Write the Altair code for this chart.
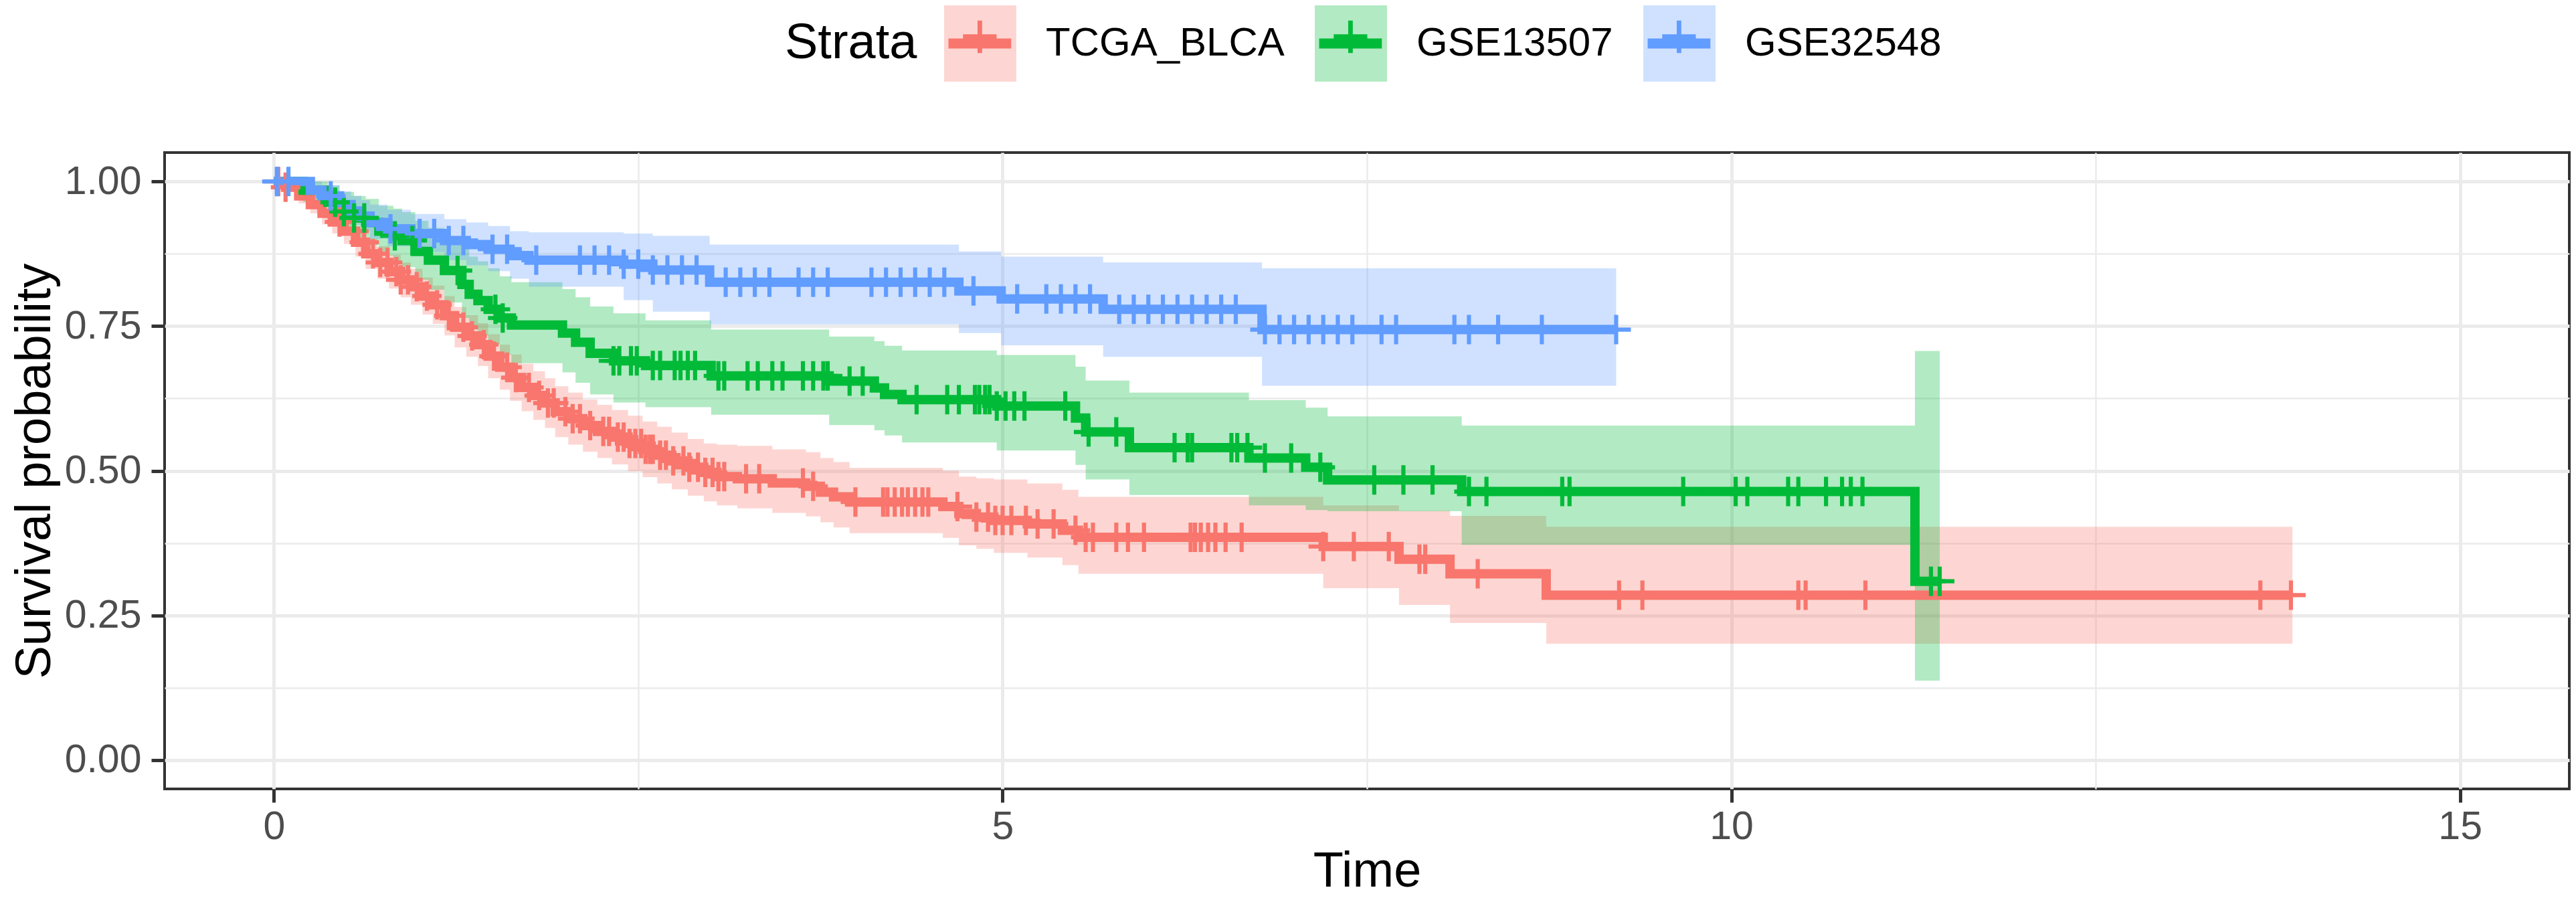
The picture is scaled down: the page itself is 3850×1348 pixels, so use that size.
import altair as alt
import pandas as pd

# ---------------- data ----------------
names = ["TCGA_BLCA", "GSE13507", "GSE32548"]
colors = ["#F8766D", "#00BA38", "#619CFF"]

# TCGA_BLCA : step times, survival, lower / upper confidence limits
red_t = [0.00, 0.08, 0.17, 0.25, 0.33, 0.40, 0.48, 0.56, 0.63, 0.71, 0.79, 0.87, 0.94, 1.02, 1.09,
         1.17, 1.24, 1.32, 1.40, 1.47, 1.55, 1.62, 1.70, 1.78, 1.86, 1.93, 2.02, 2.12, 2.22, 2.32,
         2.43, 2.53, 2.63, 2.73, 2.84, 2.95, 3.04, 3.18, 3.42, 3.65, 3.75, 3.84, 3.95, 4.59, 4.70,
         4.82, 4.94, 5.17, 5.41, 5.52, 7.20, 7.72, 8.07, 8.73, 13.85]
red_s = [1.000, 0.990, 0.975, 0.960, 0.945, 0.930, 0.914, 0.895, 0.875, 0.860, 0.844, 0.830, 0.818, 0.802, 0.787,
         0.768, 0.748, 0.733, 0.718, 0.698, 0.679, 0.661, 0.644, 0.630, 0.617, 0.602, 0.590, 0.578, 0.568, 0.558,
         0.547, 0.537, 0.527, 0.517, 0.506, 0.497, 0.490, 0.486, 0.479, 0.473, 0.463, 0.455, 0.446, 0.438, 0.426,
         0.420, 0.414, 0.408, 0.397, 0.385, 0.369, 0.347, 0.322, 0.285, 0.285]
red_lo = [1.000, 0.982, 0.962, 0.945, 0.926, 0.910, 0.892, 0.870, 0.849, 0.832, 0.815, 0.800, 0.787, 0.770, 0.754,
          0.734, 0.713, 0.697, 0.681, 0.660, 0.640, 0.621, 0.603, 0.588, 0.574, 0.558, 0.545, 0.533, 0.522, 0.511,
          0.499, 0.489, 0.478, 0.468, 0.457, 0.447, 0.440, 0.435, 0.427, 0.421, 0.411, 0.402, 0.392, 0.384, 0.371,
          0.365, 0.358, 0.350, 0.337, 0.322, 0.297, 0.268, 0.237, 0.201, 0.201]
red_hi = [1.000, 0.998, 0.988, 0.975, 0.962, 0.950, 0.936, 0.920, 0.901, 0.888, 0.873, 0.860, 0.849, 0.834, 0.820,
          0.802, 0.783, 0.769, 0.755, 0.736, 0.718, 0.701, 0.685, 0.672, 0.660, 0.646, 0.635, 0.623, 0.614, 0.605,
          0.595, 0.585, 0.576, 0.566, 0.555, 0.547, 0.545, 0.543, 0.537, 0.532, 0.522, 0.515, 0.505, 0.500, 0.490,
          0.487, 0.485, 0.478, 0.467, 0.455, 0.440, 0.431, 0.422, 0.403, 0.403]
red_cens = [0.03, 0.08, 0.45, 0.55, 0.62, 0.68, 0.73, 0.78, 0.84, 0.87, 0.92, 0.98, 1.05, 1.12, 1.20, 1.30,
            1.36, 1.44, 1.51, 1.60, 1.66, 1.75, 1.82, 1.88, 1.92, 2.00, 2.05, 2.10, 2.17, 2.26, 2.30, 2.36,
            2.40, 2.44, 2.48, 2.52, 2.55, 2.58, 2.60, 2.65, 2.69, 2.74, 2.81, 2.85, 2.91, 2.96, 3.01, 3.05,
            3.09, 3.24, 3.33, 3.63, 3.70, 3.99, 4.18, 4.21, 4.26, 4.31, 4.35, 4.40, 4.45, 4.49, 4.69, 4.82,
            4.90, 4.95, 5.00, 5.06, 5.16, 5.24, 5.35, 5.50, 5.57, 5.62, 5.78, 5.86, 5.97, 6.29, 6.32, 6.36,
            6.41, 6.46, 6.53, 6.64, 7.20, 7.41, 7.65, 7.86, 7.90, 8.26, 9.23, 9.39, 10.46, 10.51, 10.92,
            13.63, 13.84]

# GSE13507
green_t = [0.00, 0.20, 0.37, 0.45, 0.55, 0.63, 0.72, 0.82, 0.88, 0.97, 1.06, 1.17, 1.29, 1.34, 1.40,
           1.47, 1.55, 1.63, 1.98, 2.07, 2.17, 2.33, 2.55, 3.00, 3.81, 4.12, 4.19, 4.31, 4.96, 5.50,
           5.57, 5.87, 6.69, 7.08, 7.23, 8.15, 11.26, 11.43]
green_s = [1.000, 0.985, 0.964, 0.948, 0.937, 0.929, 0.914, 0.906, 0.898, 0.879, 0.864, 0.846, 0.822, 0.805, 0.794,
           0.779, 0.764, 0.752, 0.738, 0.722, 0.703, 0.690, 0.682, 0.664, 0.655, 0.643, 0.632, 0.623, 0.612, 0.591,
           0.567, 0.540, 0.522, 0.506, 0.484, 0.464, 0.309, 0.309]
green_lo = [1.000, 0.965, 0.935, 0.915, 0.900, 0.890, 0.872, 0.862, 0.852, 0.830, 0.813, 0.791, 0.764, 0.746, 0.734,
            0.718, 0.700, 0.686, 0.670, 0.652, 0.632, 0.618, 0.610, 0.597, 0.579, 0.570, 0.561, 0.549, 0.535, 0.510,
            0.485, 0.458, 0.440, 0.432, 0.430, 0.372, 0.137, 0.137]
green_hi = [1.000, 1.000, 0.993, 0.982, 0.975, 0.970, 0.958, 0.953, 0.947, 0.932, 0.920, 0.905, 0.884, 0.870, 0.862,
            0.850, 0.836, 0.826, 0.814, 0.800, 0.784, 0.772, 0.760, 0.744, 0.732, 0.724, 0.716, 0.708, 0.700, 0.680,
            0.656, 0.635, 0.622, 0.609, 0.594, 0.578, 0.707, 0.707]
green_cens = [0.42, 0.48, 0.55, 0.62, 0.83, 0.95, 1.26, 1.52, 1.57, 2.33, 2.37, 2.45, 2.49, 2.60, 2.65, 2.75,
              2.79, 2.84, 2.89, 3.05, 3.09, 3.25, 3.32, 3.42, 3.49, 3.63, 3.70, 3.77, 3.80, 3.95, 4.04, 4.41,
              4.62, 4.70, 4.81, 4.84, 4.88, 4.91, 4.96, 5.02, 5.08, 5.15, 5.43, 5.59, 5.78, 6.18, 6.27, 6.30,
              6.57, 6.61, 6.68, 6.80, 6.98, 7.18, 7.55, 7.75, 7.95, 8.20, 8.32, 8.84, 8.89, 9.67, 10.03, 10.11,
              10.39, 10.46, 10.65, 10.76, 10.82, 10.90, 11.37, 11.43]

# GSE32548
blue_t = [0.00, 0.25, 0.33, 0.45, 0.53, 0.60, 0.66, 0.78, 0.94, 1.17, 1.32, 1.47, 1.62, 1.75, 2.40,
          2.60, 2.99, 4.70, 4.99, 5.69, 6.78, 9.21]
blue_s = [1.000, 0.985, 0.975, 0.960, 0.949, 0.940, 0.929, 0.918, 0.910, 0.898, 0.891, 0.883, 0.872, 0.864, 0.857,
          0.847, 0.826, 0.811, 0.797, 0.779, 0.744, 0.744]
blue_lo = [1.000, 0.970, 0.957, 0.938, 0.925, 0.914, 0.901, 0.888, 0.878, 0.864, 0.855, 0.845, 0.832, 0.818, 0.795,
           0.775, 0.753, 0.738, 0.717, 0.697, 0.647, 0.647]
blue_hi = [1.000, 1.000, 0.994, 0.983, 0.975, 0.968, 0.960, 0.951, 0.944, 0.935, 0.929, 0.923, 0.914, 0.912, 0.910,
           0.906, 0.891, 0.879, 0.870, 0.860, 0.850, 0.850]
blue_cens = [0.02, 0.10, 0.39, 0.80, 1.00, 1.10, 1.20, 1.30, 1.50, 1.60, 1.80, 2.10, 2.20, 2.30, 2.40, 2.50,
             2.60, 2.70, 2.80, 2.90, 3.10, 3.20, 3.30, 3.40, 3.60, 3.70, 3.80, 4.10, 4.20, 4.30, 4.40, 4.50,
             4.60, 4.80, 5.10, 5.30, 5.40, 5.50, 5.60, 5.80, 5.90, 6.00, 6.10, 6.20, 6.30, 6.40, 6.50, 6.60,
             6.80, 6.90, 7.00, 7.10, 7.20, 7.30, 7.40, 7.60, 7.70, 8.10, 8.20, 8.40, 8.70, 9.21]

x_ticks = [0, 2.5, 5, 7.5, 10, 12.5, 15]
y_ticks = [0, 0.125, 0.25, 0.375, 0.5, 0.625, 0.75, 0.875, 1.0]

# ---------------- tables ----------------
series = [
    (names[0], red_t, red_s, red_lo, red_hi, red_cens),
    (names[1], green_t, green_s, green_lo, green_hi, green_cens),
    (names[2], blue_t, blue_s, blue_lo, blue_hi, blue_cens),
]


def surv_at(ts, ss, x):
    v = ss[0]
    for ti, si in zip(ts, ss):
        if ti <= x + 1e-9:
            v = si
        else:
            break
    return v


step_rows, cens_rows = [], []
for name, ts, ss, lo, hi, cs in series:
    for a, b, c, d in zip(ts, ss, lo, hi):
        step_rows.append({"strata": name, "grp": name, "t": a, "s": b, "lo": c, "hi": d})
    for c in cs:
        cens_rows.append({"grp": name, "t": c, "s": surv_at(ts, ss, c)})
steps = pd.DataFrame(step_rows)
cens = pd.DataFrame(cens_rows)

# ---------------- geometry / style ----------------
W, H = 3594, 951
FONT = "Liberation Sans"
PLUS = "M-0.14,-1H0.14V1H-0.14ZM-1,-0.14H1V0.14H-1Z"
KEY_RECT = "M-0.947,-1H0.947V1H-0.947Z"
KEY_LINE = ("M-0.822,-0.13H0.822V0.13H-0.822Z"
            "M-0.06,-0.6H0.06V0.25H-0.06Z"
            "M-0.44,-0.24H0.44V-0.11H-0.44Z")

xscale = alt.Scale(domain=[-0.75, 15.75], nice=False, zero=False)
yscale = alt.Scale(domain=[-0.05, 1.05], nice=False, zero=False)

minor_x = "datum.value % 5 !== 0"
minor_y = "(datum.value * 4) % 1 !== 0"

x_axis = alt.Axis(
    values=x_ticks, title="Time", domain=False,
    labelExpr="datum.value % 5 === 0 ? format(datum.value, 'd') : ''",
    labelFontSize=59, labelColor="#4D4D4D", labelFont=FONT, labelBaseline="alphabetic",
    labelPadding=54, labelFlush=False, labelOverlap=False,
    tickSize=20, tickWidth=5, tickColor="#333333",
    tickOpacity={"condition": {"test": minor_x, "value": 0}, "value": 1},
    grid=True, gridColor="#EBEBEB",
    gridWidth={"condition": {"test": minor_x, "value": 2.5}, "value": 5},
    titleFontSize=74, titleFontWeight="normal", titleColor="black", titleFont=FONT,
    titleX=W / 2, titleY=145, titleBaseline="alphabetic", titleAlign="center",
)
y_axis = alt.Axis(
    values=y_ticks, title="Survival probability", domain=False,
    labelExpr="(datum.value * 4) % 1 === 0 ? format(datum.value, '.2f') : ''",
    labelFontSize=59, labelColor="#4D4D4D", labelFont=FONT, labelAlign="right",
    labelBaseline="middle", labelPadding=15, labelFlush=False, labelOverlap=False,
    tickSize=20, tickWidth=5, tickColor="#333333",
    tickOpacity={"condition": {"test": minor_y, "value": 0}, "value": 1},
    grid=True, gridColor="#EBEBEB",
    gridWidth={"condition": {"test": minor_y, "value": 2.5}, "value": 5},
    titleFontSize=74, titleFontWeight="normal", titleColor="black", titleFont=FONT,
    titleAngle=270, titleX=-172, titleY=H / 2, titleBaseline="alphabetic", titleAlign="center",
)

legend_common = dict(
    orient="none", legendY=-220, direction="horizontal",
    labelFontSize=60, labelFont=FONT, labelOffset=41, labelLimit=2000,
    columnPadding=42, symbolSize=12996, symbolStrokeWidth=0, padding=0, offset=0,
)
# pale confidence-band keys, with the legend title
legend_band = alt.Legend(
    title="Strata", legendX=927, titleOrient="left", titleAnchor="middle", titleBaseline="middle",
    titleFontSize=74, titleFontWeight="normal", titleFont=FONT, titlePadding=37, titleLimit=2000,
    titleColor="black", symbolType=KEY_RECT, symbolOpacity=0.3, labelColor="black", **legend_common)
# line + censor-mark keys laid exactly over the band keys
legend_line = alt.Legend(
    title=None, legendX=927 + 197.4 + 37, symbolType=KEY_LINE, symbolOpacity=1,
    labelColor="transparent", labelOpacity=0, **legend_common)

band = alt.Chart(steps).mark_area(interpolate="step-after", opacity=0.3).encode(
    x=alt.X("t:Q", scale=xscale, axis=x_axis),
    y=alt.Y("lo:Q", scale=yscale, axis=y_axis),
    y2="hi:Q",
    color=alt.Color("strata:N", scale=alt.Scale(domain=names, range=colors), legend=legend_band),
)

line = alt.Chart(steps).mark_line(interpolate="step-after", strokeWidth=14).encode(
    x=alt.X("t:Q", scale=xscale),
    y=alt.Y("s:Q", scale=yscale),
    stroke=alt.Stroke("grp:N", scale=alt.Scale(domain=names, range=colors), legend=None),
)

ticks = alt.Chart(cens).mark_point(shape=PLUS, filled=True, size=1936, opacity=1, strokeWidth=0).encode(
    x=alt.X("t:Q", scale=xscale),
    y=alt.Y("s:Q", scale=yscale),
    fill=alt.Fill("grp:N", sort=names, scale=alt.Scale(range=colors), legend=legend_line),
)

chart = alt.layer(band, line, ticks).properties(
    width=W, height=H,
    autosize=alt.AutoSizeParams(type="none"),
    padding={"left": 238, "top": 220, "right": 2, "bottom": 161},
).configure(font=FONT).configure_view(stroke="#333333", strokeWidth=4)

chart.save("out.html", embed_options={"renderer": "svg", "actions": False})
